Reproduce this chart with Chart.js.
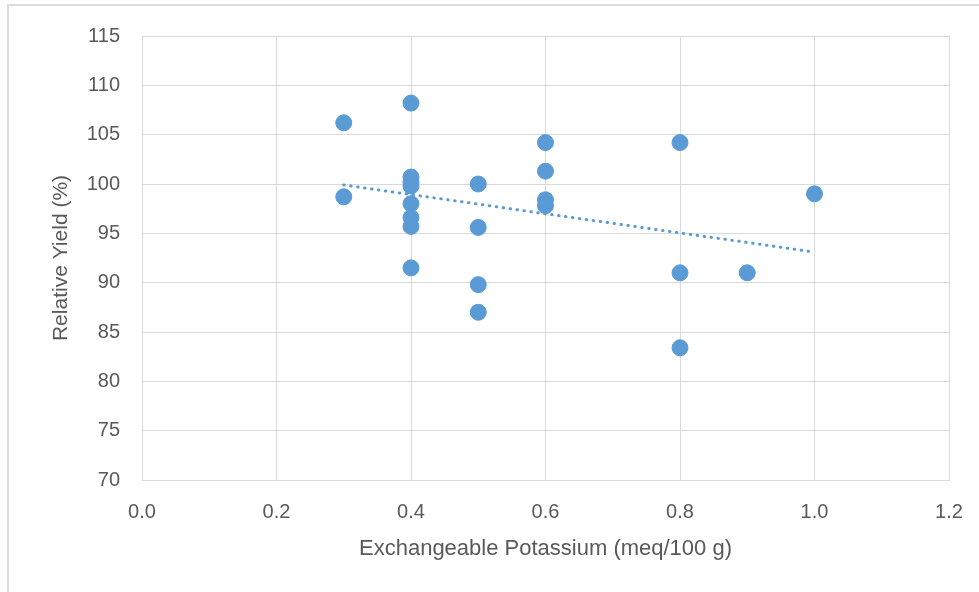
<!DOCTYPE html>
<html>
<head>
<meta charset="utf-8">
<script src="https://cdn.jsdelivr.net/npm/chart.js@4/dist/chart.umd.min.js"></script>
<style>
    body {
        margin: 0;
        background: #ffffff;
        overflow: hidden;
    }
    .frame {
        position: absolute;
        left: 7px;
        top: 4px;
        width: 1100px;
        height: 800px;
        border: 2px solid #dcdcdc;
    }
    #chart {
        position: absolute;
        left: 0;
        top: 0;
    }
</style>
</head>
<body>
<div class="frame"></div>
<canvas id="chart" width="979" height="592"></canvas>
<script>
// potassium (meq/100 g) and relative yield (%) for each sample
const potassium = [0.3, 0.3,
    0.4, 0.4, 0.4, 0.4, 0.4, 0.4, 0.4, 0.4,
    0.5, 0.5, 0.5, 0.5,
    0.6, 0.6, 0.6, 0.6,
    0.8, 0.8, 0.8,
    0.9,
    1.0];
const relYield = [106.2, 98.7,
    108.2, 100.7, 100.2, 99.8, 98.0, 96.6, 95.7, 91.5,
    100.0, 95.6, 89.8, 87.0,
    104.2, 101.3, 98.4, 97.8,
    104.2, 91.0, 83.4,
    91.0,
    99.0];

// linear trendline ends
const trendX = [0.3, 1.0];
const trendY = [99.9, 93.1];

const xTicks = [0, 1.2, 0.2];   // min, max, step
const yTicks = [70, 115, 5];

const blue = '#5b9bd5';
const grey = '#595959';
const gridColor = '#d9d9d9';
const font = '"Liberation Sans", Arial, sans-serif';

const points = potassium.map((x, i) => ({ x: x, y: relYield[i] }));
const trend = trendX.map((x, i) => ({ x: x, y: trendY[i] }));

new Chart(document.getElementById('chart').getContext('2d'), {
    type: 'scatter',
    data: {
        datasets: [{
            label: 'Relative Yield',
            data: points,
            backgroundColor: blue,
            borderColor: blue,
            pointRadius: 8,
            pointHoverRadius: 8,
            order: 2
        }, {
            label: 'Linear trend',
            data: trend,
            showLine: true,
            borderColor: blue,
            borderWidth: 3,
            borderDash: [0.5, 6.5],
            borderCapStyle: 'round',
            pointRadius: 0,
            order: 1
        }]
    },
    options: {
        responsive: false,
        animation: false,
        layout: {
            padding: { top: 36, right: 30, left: 0, bottom: 0 }
        },
        plugins: {
            legend: { display: false },
            tooltip: { enabled: false }
        },
        scales: {
            x: {
                type: 'linear',
                min: xTicks[0],
                max: xTicks[1],
                afterFit: (s) => {
                    s.height = 112;
                    s.paddingLeft = 0;
                    s.paddingRight = 0;
                },
                grid: { color: gridColor, drawTicks: false },
                border: { color: gridColor },
                ticks: {
                    stepSize: xTicks[2],
                    padding: 20,
                    color: grey,
                    font: { family: font, size: 20 },
                    callback: (v) => Number(v).toFixed(1)
                },
                title: {
                    display: true,
                    text: 'Exchangeable Potassium (meq/100 g)',
                    color: grey,
                    font: { family: font, size: 22 },
                    padding: { top: 0, bottom: 30 }
                }
            },
            y: {
                min: yTicks[0],
                max: yTicks[1],
                afterFit: (s) => {
                    s.width = 142;
                    s.paddingTop = 0;
                    s.paddingBottom = 0;
                },
                grid: { color: gridColor, drawTicks: false },
                border: { color: gridColor },
                ticks: {
                    stepSize: yTicks[2],
                    padding: 22,
                    color: grey,
                    font: { family: font, size: 20 }
                },
                title: {
                    display: true,
                    text: 'Relative Yield (%)',
                    color: grey,
                    font: { family: font, size: 21 },
                    padding: { top: 49, bottom: 0 }
                }
            }
        }
    }
});
</script>
</body>
</html>
